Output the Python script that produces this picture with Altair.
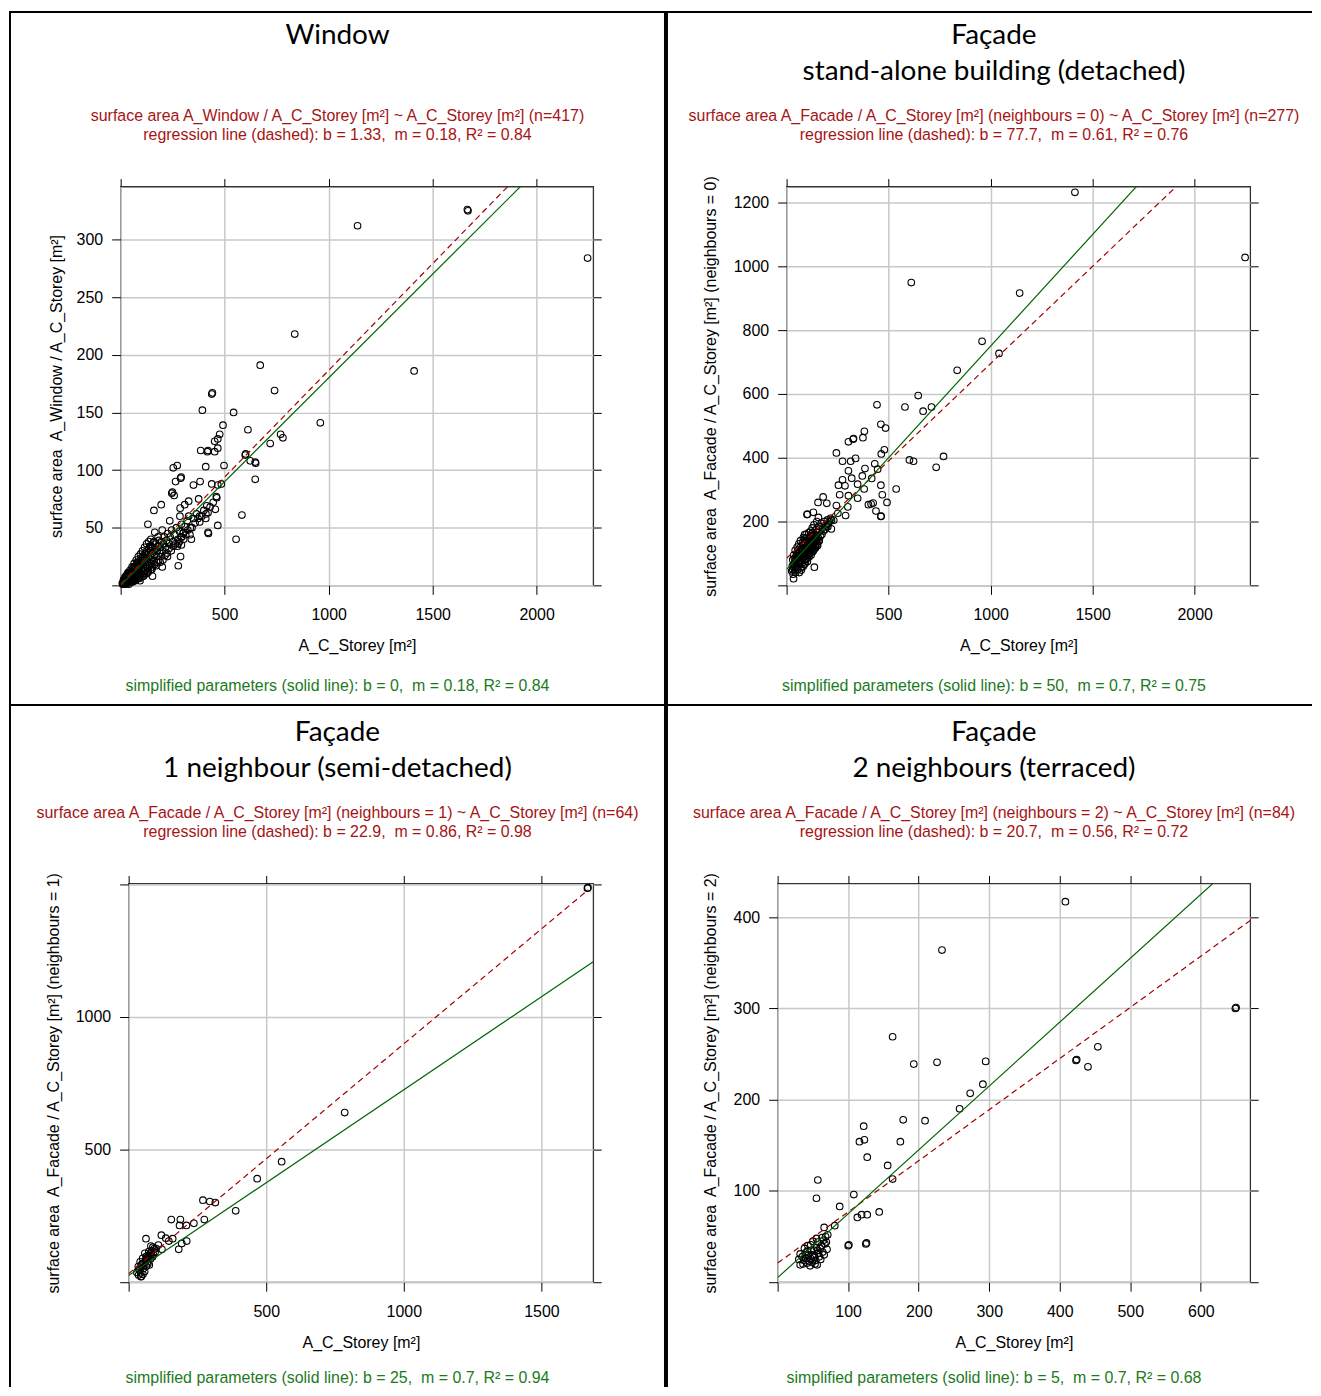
import altair as alt
import pandas as pd

FONT_T = "Lato, Carlito, 'Open Sans', sans-serif"
FONT_N = "'Liberation Sans', Arial, sans-serif"
RED_TXT = "#a51414"
GREEN_TXT = "#1c7a1c"
RED_LINE = "#a00000"
GREEN_LINE = "#006400"

# ---------------- data ----------------
W_PTS = [
    (1667, 326), (1670, 325), (1139, 312), (2245, 284), (837, 218), (671, 191), (1411, 186), (740, 169),
    (438, 166), (441, 167), (393, 152), (543, 150), (492, 139), (960, 141), (612, 135), (476, 131),
    (467, 127), (452, 125), (769, 131), (780, 128), (467, 119), (385, 117), (417, 116), (420, 117),
    (452, 116), (719, 123), (599, 113), (601, 114), (623, 108), (647, 107), (649, 106), (647, 92),
    (272, 104), (253, 102), (409, 103), (497, 104), (288, 93), (291, 94), (264, 90), (382, 90),
    (350, 87), (438, 88), (467, 87), (484, 88), (246, 80), (249, 81), (257, 78), (460, 77), (462, 76),
    (375, 75), (327, 73), (308, 70), (414, 69), (286, 67), (420, 63), (583, 61), (195, 70), (160, 65),
    (285, 60), (327, 60), (380, 60), (409, 58), (236, 56), (131, 53), (467, 52), (164, 46), (420, 46),
    (422, 45), (302, 46), (292, 42), (340, 40), (555, 40), (276, 36), (292, 35), (225, 25), (288, 25),
    (200, 16), (277, 17), (153, 8), (93, 4),
    (12, 2), (15, 4), (18, 3), (20, 5), (22, 2), (24, 6), (26, 4), (28, 7), (30, 3), (32, 6), (34, 8),
    (36, 5), (38, 9), (40, 4), (42, 7), (44, 10), (46, 6), (48, 9), (50, 12), (52, 5), (54, 8), (56, 11),
    (58, 14), (60, 7), (62, 10), (64, 13), (66, 16), (68, 6), (70, 9), (72, 12), (74, 15), (76, 18),
    (78, 8), (80, 11), (82, 14), (84, 17), (86, 20), (88, 9), (90, 13), (92, 16), (94, 19), (96, 22),
    (98, 10), (100, 14), (102, 18), (104, 21), (106, 24), (108, 12), (110, 16), (112, 20), (114, 23),
    (116, 27), (118, 13), (120, 18), (122, 22), (124, 26), (126, 30), (128, 15), (130, 20), (132, 24),
    (134, 28), (136, 32), (138, 17), (140, 22), (142, 26), (144, 30), (146, 34), (148, 19), (150, 24),
    (152, 28), (155, 33), (158, 37), (160, 21), (163, 27), (166, 31), (170, 36), (173, 25), (176, 30),
    (180, 34), (184, 39), (188, 28), (192, 33), (196, 38), (200, 30), (205, 36), (210, 42), (215, 33),
    (220, 39), (226, 45), (232, 36), (238, 42), (245, 48), (252, 38), (260, 44), (268, 50), (275, 40),
    (283, 47), (292, 53), (300, 45), (310, 51), (320, 56), (335, 50), (350, 58), (365, 62), (380, 55),
    (400, 65), (30, 9), (40, 11), (50, 3), (60, 15), (70, 4), (80, 20), (90, 6), (100, 24), (110, 8),
    (120, 28), (130, 11), (140, 34), (150, 14), (160, 38), (170, 17), (180, 42), (190, 20), (200, 48),
    (75, 22), (85, 25), (95, 27), (105, 30), (115, 33), (125, 36), (135, 38), (145, 40), (65, 19),
    (55, 16), (45, 13), (35, 11), (25, 8), (20, 7), (16, 1), (10, 1), (8, 2), (14, 5), (27, 1), (33, 2),
    (39, 1), (47, 3), (57, 3), (63, 4), (73, 5), (83, 6), (93, 7), (103, 8), (113, 10), (123, 10),
    (133, 12), (143, 13), (153, 16), (163, 18), (173, 20), (183, 22), (193, 25), (203, 22), (213, 26),
    (223, 28), (233, 32), (243, 30), (253, 34), (263, 36), (273, 34), (283, 38), (293, 42), (303, 40),
    (313, 44), (323, 48), (333, 44), (343, 50), (358, 54), (372, 58), (390, 60), (410, 62), (430, 68),
    (445, 72), (455, 66),
]

F0_PTS = [
    (1413, 1232), (2247, 1028), (611, 949), (1142, 916), (958, 765), (1041, 727), (836, 674), (645, 595),
    (443, 566), (580, 559), (710, 559), (669, 546), (462, 505), (485, 493), (381, 483), (326, 458),
    (328, 460), (303, 450), (374, 463), (479, 425), (464, 412), (244, 415), (338, 398), (274, 389),
    (314, 389), (602, 393), (622, 389), (769, 404), (733, 370), (432, 381), (384, 366), (303, 359),
    (446, 364), (319, 336), (371, 343), (417, 335), (274, 331), (254, 314), (286, 312), (348, 317),
    (462, 314), (380, 302), (537, 302), (260, 284), (303, 281), (469, 284), (348, 273), (179, 277),
    (154, 260), (197, 257), (492, 260), (401, 253), (414, 255), (424, 258), (244, 250), (300, 246),
    (438, 233), (462, 216), (463, 217), (100, 222), (102, 223), (131, 229), (156, 213), (251, 226),
    (289, 219), (231, 204), (202, 184), (219, 177), (157, 138), (88, 159), (136, 57), (34, 21),
    (25, 45), (28, 60), (30, 80), (32, 35), (35, 95), (38, 55), (40, 70), (42, 110), (44, 40), (46, 85),
    (48, 60), (50, 100), (52, 120), (54, 50), (56, 75), (58, 90), (60, 130), (62, 65), (64, 105),
    (66, 80), (68, 140), (70, 55), (72, 95), (74, 115), (76, 70), (78, 125), (80, 85), (82, 150),
    (84, 100), (86, 65), (88, 110), (90, 135), (92, 80), (94, 120), (96, 160), (98, 95), (100, 140),
    (102, 75), (104, 125), (106, 105), (108, 165), (110, 90), (112, 130), (114, 150), (116, 110),
    (118, 170), (120, 95), (122, 140), (124, 120), (126, 180), (128, 105), (130, 155), (132, 130),
    (134, 190), (136, 115), (138, 160), (140, 145), (142, 125), (144, 175), (146, 140), (148, 200),
    (150, 130), (152, 165), (155, 150), (158, 185), (160, 140), (163, 170), (166, 155), (170, 195),
    (173, 160), (176, 180), (180, 170), (184, 200), (188, 175), (192, 190), (196, 185), (200, 205),
    (205, 195), (210, 200), (215, 210), (220, 205), (30, 50), (35, 65), (40, 45), (45, 75), (50, 55),
    (55, 90), (60, 70), (65, 95), (70, 75), (75, 100), (80, 110), (85, 90), (90, 115), (95, 100),
    (100, 120), (105, 95), (110, 115), (115, 130), (120, 115), (125, 135), (130, 120), (135, 140),
    (140, 125), (145, 155), (150, 145), (38, 85), (48, 95), (58, 110), (68, 120), (78, 135), (88, 145),
    (98, 150), (108, 145), (118, 155), (128, 165), (62, 40), (72, 48), (82, 60), (92, 70), (102, 85),
    (112, 100), (122, 105), (132, 110), (142, 118), (152, 125),
]

F1_PTS = [
    (1667, 1484), (1669, 1486), (785, 639), (556, 454), (467, 390), (389, 269), (270, 309), (295, 304),
    (315, 300), (155, 236), (188, 236), (185, 214), (210, 214), (237, 222), (275, 236), (63, 164),
    (119, 177), (135, 166), (146, 155), (160, 164), (211, 155), (193, 146), (182, 124), (121, 124),
    (108, 140), (93, 127), (81, 136), (73, 115), (59, 109), (81, 102), (51, 90), (69, 77), (42, 77),
    (75, 65), (35, 59), (54, 52), (36, 27), (45, 21), (46, 22), (30, 37), (96, 112), (87, 96), (63, 96),
    (100, 127), (51, 71), (69, 87), (40, 45), (48, 60), (56, 70), (62, 82), (66, 92), (72, 100),
    (78, 108), (84, 118), (90, 104), (58, 40), (64, 60), (44, 35), (52, 30), (38, 50), (70, 70),
    (80, 88), (88, 132), (47, 66),
]

F2_PTS = [
    (408, 417), (233, 364), (649, 300), (650, 301), (163, 269), (454, 258), (423, 243), (424, 244),
    (440, 236), (193, 239), (226, 241), (295, 242), (291, 217), (273, 207), (258, 190), (178, 178),
    (209, 177), (122, 171), (116, 154), (123, 156), (174, 154), (127, 137), (156, 128), (163, 113),
    (57, 112), (55, 92), (108, 96), (88, 83), (113, 71), (119, 74), (127, 74), (144, 77), (81, 62),
    (66, 60), (71, 52), (69, 44), (100, 40), (101, 41), (125, 42), (126, 43),
    (32, 31), (32, 19), (38, 37), (40, 26), (42, 34), (45, 23), (47, 41), (50, 30), (52, 35), (54, 24),
    (56, 19), (57, 44), (59, 28), (60, 37), (63, 49), (37, 24), (42, 21), (47, 26), (52, 29), (58, 32),
    (35, 28), (44, 30), (48, 35), (55, 38), (62, 40), (65, 46), (68, 50), (50, 45), (46, 18), (53, 20),
    (61, 25), (66, 30), (70, 36), (39, 32), (43, 40), (49, 22), (51, 27), (57, 35), (64, 33), (67, 42),
    (30, 25), (36, 20), (41, 29), (55, 48),
]

# regression (dashed) lines, end points
W_DASH = ([0, 1861], [1.33, 346])
F0_DASH = ([0, 1898], [85, 1243])
F1_DASH = ([0, 1670], [32, 1478])
F2_DASH = ([0, 671], [21, 397])

# simplified parameters (solid line): b, m
W_SIMPLE = (0, 0.18)
F0_SIMPLE = (50, 0.7)
F1_SIMPLE = (25, 0.7)
F2_SIMPLE = (5, 0.7)

ONE = alt.Data(values=[{}])


def txt(s, x, y, font, size, color):
    return alt.Chart(ONE).mark_text(
        text=s, font=font, fontSize=size, color=color, align="center", baseline="middle"
    ).encode(x=alt.value(x), y=alt.value(y))


def bar(x1, x2, y1, y2, opacity=1):
    return alt.Chart(ONE).mark_rect(color="black", opacity=opacity).encode(
        x=alt.value(x1), x2=alt.value(x2), y=alt.value(y1), y2=alt.value(y2))


def panel(pts, xdom, ydom, xticks, yticks, dash, simple, titles, red, green, ytitle,
          w, h, cx, ytx, box, edges, foot_y):
    df = pd.DataFrame(pts, columns=["x", "y"])
    xs = alt.Scale(domain=xdom, nice=False, zero=False)
    ys = alt.Scale(domain=ydom, nice=False, zero=False)
    xcut = xdom[1] - 0.01 * (xdom[1] - xdom[0])
    ycut = ydom[1] - 0.01 * (ydom[1] - ydom[0])
    common = dict(tickColor="black", tickWidth=1, domain=False, labelFont=FONT_N, labelFontSize=16,
                  labelColor="black", labelFlush=False, labelOverlap=False, titleFont=FONT_N,
                  titleFontSize=16, titleFontWeight="normal", titleColor="black",
                  gridColor="#c8c8c8", gridWidth=1.5, format="d")
    ax_b = alt.Axis(orient="bottom", values=xticks, tickSize=9, grid=True, labelPadding=12,
                    labelExpr=f"(datum.value <= {xdom[0]} || datum.value >= {xcut}) ? '' : datum.label",
                    title="A_C_Storey [m²]", titleX=w / 2, titleY=60, titleBaseline="middle",
                    titleAlign="center", **common)
    ax_l = alt.Axis(orient="left", values=yticks, tickSize=9, grid=True, labelPadding=9,
                    labelExpr=f"(datum.value <= {ydom[0]} || datum.value >= {ycut}) ? '' : datum.label",
                    title=ytitle, titleX=ytx, titleY=h / 2, titleAngle=270, titleBaseline="middle",
                    titleAlign="center", **common)
    ax_t = alt.Axis(orient="top", values=xticks, tickSize=8, grid=False, labels=False, title=None,
                    **common)
    ax_r = alt.Axis(orient="right", values=yticks, tickSize=8, grid=False, labels=False, title=None,
                    **common)

    points = alt.Chart(df).mark_point(
        shape="circle", filled=False, color="black", size=44, strokeWidth=1.1, opacity=1
    ).encode(x=alt.X("x:Q", scale=xs, axis=ax_b), y=alt.Y("y:Q", scale=ys, axis=ax_l))

    dashed = alt.Chart(pd.DataFrame({"x": dash[0], "y": dash[1]})).mark_line(
        color=RED_LINE, strokeWidth=1.2, strokeDash=[6, 4], clip=True
    ).encode(x=alt.X("x:Q", scale=xs, axis=None), y=alt.Y("y:Q", scale=ys, axis=None))

    solid = alt.Chart(pd.DataFrame({"x": [xdom[0], xdom[1]]})).transform_calculate(
        y=f"{simple[0]} + {simple[1]} * datum.x"
    ).mark_line(color=GREEN_LINE, strokeWidth=1.2, clip=True).encode(
        x=alt.X("x:Q", scale=xs, axis=ax_t), y=alt.Y("y:Q", scale=ys, axis=ax_r))

    texts = []
    ty = -151
    for t in titles:
        texts.append(txt(t, cx, ty, FONT_T, 28, "black"))
        ty += 36
    texts.append(txt(red[0], cx, -71, FONT_N, 16, RED_TXT))
    texts.append(txt(red[1], cx, -52, FONT_N, 16, RED_TXT))
    texts.append(txt(green, cx, foot_y, FONT_N, 16, GREEN_TXT))

    l, r, t, b = box
    layers = [points, dashed, solid, *texts]
    # invisible box that fixes the extent of the panel cell
    layers.append(bar(l, r, t, b, opacity=0))
    for e in edges:
        if e == "top":
            layers.append(bar(l, r, t, t + 2))
        elif e == "bottom":
            layers.append(bar(l, r, b - 2, b))
        elif e == "left":
            layers.append(bar(l, l + 2, t, b))
        elif e == "right":
            layers.append(bar(r - 2, r, t, b))

    return alt.layer(*layers).properties(width=w, height=h).resolve_axis(
        x="independent", y="independent")


def spacer():
    # empty 1x1 cell so that the panels are packed by their own extents
    return alt.Chart(ONE).mark_rect(opacity=0).encode(
        x=alt.value(0), x2=alt.value(1), y=alt.value(0), y2=alt.value(1)
    ).properties(width=1, height=1, view=alt.ViewBackground(strokeOpacity=0))


NB = "\u00a0 "
p1 = panel(W_PTS, [0, 2272], [0, 346], [0, 500, 1000, 1500, 2000], [0, 50, 100, 150, 200, 250, 300],
           W_DASH, W_SIMPLE, ["Window"],
           ["surface area A_Window / A_C_Storey [m²] ~ A_C_Storey [m²] (n=417)",
            f"regression line (dashed): b = 1.33,{NB}m = 0.18, R² = 0.84"],
           f"simplified parameters (solid line): b = 0,{NB}m = 0.18, R² = 0.84",
           f"surface area{NB}A_Window / A_C_Storey [m²]",
           474, 400, 217.5, -64, (-112, 547, -176, 521), ["top", "left", "right", "bottom"], 501)

p2 = panel(F0_PTS, [0, 2272], [0, 1250], [0, 500, 1000, 1500, 2000], [0, 200, 400, 600, 800, 1000, 1200],
           F0_DASH, F0_SIMPLE, ["Façade", "stand-alone building (detached)"],
           ["surface area A_Facade / A_C_Storey [m²] (neighbours = 0) ~ A_C_Storey [m²] (n=277)",
            f"regression line (dashed): b = 77.7,{NB}m = 0.61, R² = 0.76"],
           f"simplified parameters (solid line): b = 50,{NB}m = 0.7, R² = 0.75",
           f"surface area{NB}A_Facade / A_C_Storey [m²] (neighbours = 0)",
           465, 400, 208, -76, (-121, 527, -176, 521), ["top", "left", "bottom"], 501)

p3 = panel(F1_PTS, [0, 1688], [0, 1502], [0, 500, 1000, 1500], [0, 500, 1000, 1500],
           F1_DASH, F1_SIMPLE, ["Façade", "1 neighbour (semi-detached)"],
           ["surface area A_Facade / A_C_Storey [m²] (neighbours = 1) ~ A_C_Storey [m²] (n=64)",
            f"regression line (dashed): b = 22.9,{NB}m = 0.86, R² = 0.98"],
           f"simplified parameters (solid line): b = 25,{NB}m = 0.7, R² = 0.94",
           f"surface area{NB}A_Facade / A_C_Storey [m²] (neighbours = 1)",
           466, 400, 209.5, -75, (-120, 539, -178, 505), ["left", "right"], 496)

p4 = panel(F2_PTS, [0, 670], [0, 437], [0, 100, 200, 300, 400, 500, 600], [0, 100, 200, 300, 400],
           F2_DASH, F2_SIMPLE, ["Façade", "2 neighbours (terraced)"],
           ["surface area A_Facade / A_C_Storey [m²] (neighbours = 2) ~ A_C_Storey [m²] (n=84)",
            f"regression line (dashed): b = 20.7,{NB}m = 0.56, R² = 0.72"],
           f"simplified parameters (solid line): b = 5,{NB}m = 0.7, R² = 0.68",
           f"surface area{NB}A_Facade / A_C_Storey [m²] (neighbours = 2)",
           474, 400, 217, -67, (-112, 535, -178, 505), ["left"], 496)

chart = alt.vconcat(
    alt.hconcat(spacer(), p1, p2, spacing=-2),
    alt.hconcat(spacer(), p3, p4, spacing=-2),
    spacing=-2,
).properties(padding=0).configure_view(stroke="#333333", strokeWidth=1.3)

chart.save("out.html", embed_options={"renderer": "svg", "actions": False})
